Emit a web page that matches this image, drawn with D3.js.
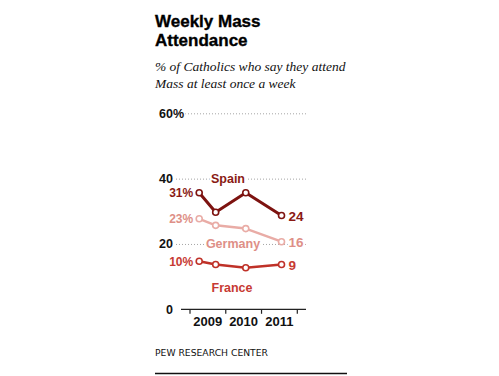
<!DOCTYPE html>
<html>
<head>
<meta charset="utf-8">
<script src="https://cdn.jsdelivr.net/npm/d3@7"></script>
<style>
  html, body { margin: 0; padding: 0; background: #fff; }
</style>
</head>
<body>
<div id="chart"></div>
<script>
(function () {
  "use strict";

  // Survey dates (approximate, read off the x position within each year)
  const surveyDates = ["2009-04-05", "2009-09-20", "2010-07-24", "2011-07-24"];
  const yearTicks = [2009, 2010, 2011, 2012];
  const yearLabels = ["2009", "2010", "2011"];

  // % of Catholics attending Mass weekly
  const spain = [31, 25, 31, 24];
  const germany = [23, 21, 20, 16];
  const france = [10, 9, 8, 9];

  const gridTicks = [60, 40, 20];
  const tickLabels = ["60", "40", "20", "0"];

  const W = 499, H = 376;
  const SANS = "'Liberation Sans', Arial, sans-serif";
  const SERIF = "'Liberation Serif', 'DejaVu Serif', Georgia, serif";

  // the original draws its lines a little above the gridlines' scale
  const PLOT_OFFSET = 4.7;

  const series = [
    { name: "Spain", values: spain, color: "#7d1310", labelColor: "#8a1a14", width: 3,
      nameX: 228, nameY: 40 },
    { name: "Germany", values: germany, color: "#e9aca6", labelColor: "#de8f87", width: 2.5,
      nameX: 233, nameY: 20 },
    { name: "France", values: france, color: "#bf3128", labelColor: "#c73a33", width: 2.5,
      nameX: 232, nameY: 6.7 }
  ];

  const svg = d3.select("#chart").append("svg")
    .attr("width", W).attr("height", H);

  // Title + subtitle
  svg.append("text").attr("x", 155).attr("y", 27)
    .attr("font-family", SANS).attr("font-weight", "bold").attr("font-size", "17px")
    .attr("fill", "#000").attr("stroke", "#000").attr("stroke-width", 0.35)
    .text("Weekly Mass");
  svg.append("text").attr("x", 155).attr("y", 46)
    .attr("font-family", SANS).attr("font-weight", "bold").attr("font-size", "17px")
    .attr("fill", "#000").attr("stroke", "#000").attr("stroke-width", 0.35)
    .text("Attendance");
  svg.append("text").attr("x", 155).attr("y", 71)
    .attr("font-family", SERIF).attr("font-style", "italic").attr("font-size", "13.5px")
    .attr("fill", "#111").text("% of Catholics who say they attend");
  svg.append("text").attr("x", 155).attr("y", 88)
    .attr("font-family", SERIF).attr("font-style", "italic").attr("font-size", "13.5px")
    .attr("fill", "#111").text("Mass at least once a week");

  const parse = d3.timeParse("%Y-%m-%d");
  const dates = surveyDates.map(parse);

  const x = d3.scaleTime()
    .domain([new Date(2009, 0, 1), new Date(2012, 0, 1)])
    .range([190, 297.3]);
  const y = d3.scaleLinear().domain([0, 60]).range([309.3, 113.3]);

  // Dotted gridlines
  svg.selectAll("line.grid").data(gridTicks).enter().append("line")
    .attr("class", "grid")
    .attr("x1", 176).attr("x2", 307)
    .attr("y1", d => y(d) + 0.5).attr("y2", d => y(d) + 0.5)
    .attr("stroke", "#a5a5a5").attr("stroke-width", 1)
    .attr("stroke-dasharray", "1,2");

  // Y tick labels: numbers right aligned at x=173, "%" hangs past it on the top one
  const yVals = gridTicks.concat([0]);
  svg.selectAll("text.ytick").data(yVals).enter().append("text")
    .attr("class", "ytick")
    .attr("x", 173).attr("y", d => y(d) + 4.5)
    .attr("font-family", SANS).attr("font-weight", "bold").attr("font-size", "12.5px")
    .attr("fill", "#111")
    .attr("stroke", "#fff").attr("stroke-width", 3).attr("paint-order", "stroke")
    .text((d, i) => tickLabels[i])
    .each(function (d, i) {
      const t = d3.select(this);
      const w = this.getComputedTextLength();
      t.attr("x", 173 - w);
      if (i === 0) t.text(tickLabels[i] + "%");
    });

  // X axis baseline and year boundary ticks
  svg.append("line").attr("x1", 181).attr("x2", 306)
    .attr("y1", y(0)).attr("y2", y(0))
    .attr("stroke", "#222").attr("stroke-width", 1.2);
  svg.selectAll("line.xtick").data(yearTicks).enter().append("line")
    .attr("class", "xtick")
    .attr("x1", d => x(new Date(d, 0, 1))).attr("x2", d => x(new Date(d, 0, 1)))
    .attr("y1", y(0)).attr("y2", y(0) + 4.5)
    .attr("stroke", "#222").attr("stroke-width", 1.2);
  svg.selectAll("text.xlab").data(yearLabels).enter().append("text")
    .attr("class", "xlab")
    .attr("x", d => x(new Date(+d, 6, 2)))
    .attr("y", 326)
    .attr("text-anchor", "middle")
    .attr("font-family", SANS).attr("font-weight", "bold").attr("font-size", "13px")
    .attr("fill", "#111").text(d => d);

  const line = d3.line()
    .x((d, i) => x(dates[i]))
    .y(d => y(d + PLOT_OFFSET));

  const halo = sel => sel
    .attr("stroke", "#fff").attr("stroke-width", 4).attr("paint-order", "stroke")
    .attr("stroke-linejoin", "round");

  // Series names (drawn first so their white halo cuts the gridlines)
  series.forEach(s => {
    svg.append("text")
      .attr("x", s.nameX).attr("y", y(s.nameY) + 4.5)
      .attr("text-anchor", "middle")
      .attr("font-family", SANS).attr("font-weight", "bold").attr("font-size", "12.5px")
      .attr("fill", s.labelColor)
      .call(halo)
      .text(s.name);
  });

  series.forEach(s => {
    svg.append("path").datum(s.values)
      .attr("d", line)
      .attr("fill", "none")
      .attr("stroke", s.color).attr("stroke-width", s.width)
      .attr("stroke-linejoin", "round");

    svg.selectAll(null).data(s.values).enter().append("circle")
      .attr("cx", (d, i) => x(dates[i]))
      .attr("cy", d => y(d + PLOT_OFFSET))
      .attr("r", 3)
      .attr("fill", "#fff")
      .attr("stroke", s.color).attr("stroke-width", 1.6);

    const first = s.values[0], last = s.values[s.values.length - 1];
    svg.append("text")
      .attr("x", x(dates[0]) - 6).attr("y", y(first + PLOT_OFFSET) + 4.5)
      .attr("text-anchor", "end")
      .attr("font-family", SANS).attr("font-weight", "bold").attr("font-size", "12px")
      .attr("fill", s.labelColor)
      .text(first + "%");
    svg.append("text")
      .attr("x", x(dates[dates.length - 1]) + 7).attr("y", y(last + PLOT_OFFSET) + 5)
      .attr("font-family", SANS).attr("font-weight", "bold").attr("font-size", "13.5px")
      .attr("fill", s.labelColor)
      .call(halo)
      .text(last);
  });

  // Source
  svg.append("text").attr("x", 155).attr("y", 355.5)
    .attr("font-family", "'DejaVu Sans', Verdana, sans-serif").attr("font-size", "9.5px")
    .attr("fill", "#111")
    .attr("textLength", 113).attr("lengthAdjust", "spacingAndGlyphs")
    .text("PEW RESEARCH  CENTER");
  svg.append("line").attr("x1", 155).attr("x2", 347)
    .attr("y1", 373.5).attr("y2", 373.5)
    .attr("stroke", "#111").attr("stroke-width", 1.3);
})();
</script>
</body>
</html>
